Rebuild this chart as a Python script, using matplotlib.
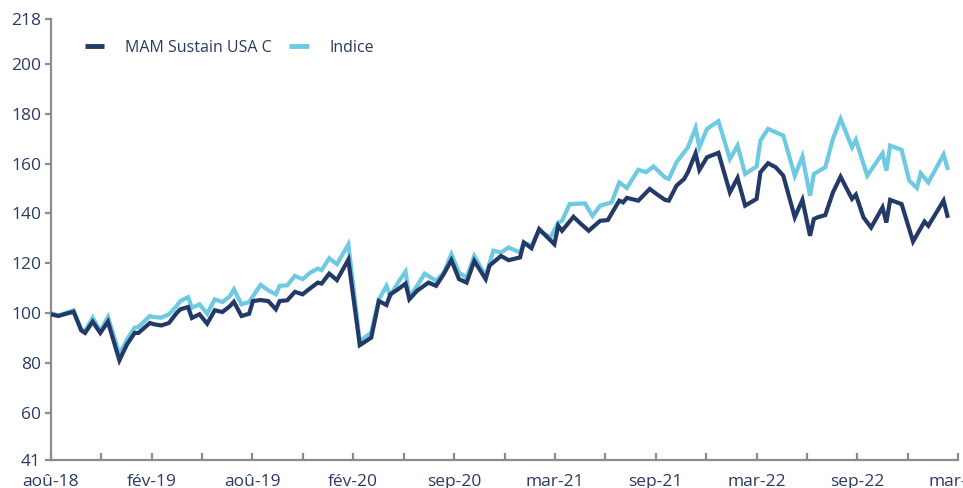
import matplotlib
matplotlib.use("Agg")
import matplotlib.pyplot as plt
import numpy as np

fund_weeks = [0, 2, 4, 6, 8, 9, 11, 13, 15, 18, 20, 22, 23, 26, 27, 29, 31, 33, 34, 36,
              37, 39, 41, 43, 45, 47, 48, 50, 52, 53, 55, 57, 59, 60, 62, 64, 66, 68, 70, 71,
              73, 75, 78, 81, 84, 86, 88, 89, 91, 93, 94, 96, 99, 101, 103, 105, 107, 109, 111, 114,
              115, 118, 120, 123, 124, 126, 128, 132, 133, 134, 137, 139, 141, 144, 146, 149, 150, 151, 154, 157,
              159, 161, 162, 164, 166, 167, 169, 170, 172, 175, 178, 180, 182, 185, 186, 188, 190, 192, 195, 197,
              199, 200, 201, 203, 205, 207, 210, 211, 213, 215, 218, 219, 220, 223, 225, 226, 229, 230, 234, 235]
fund_values = [99.5, 98.8, 99.7, 100.5, 93.0, 92.0, 96.5, 92.0, 96.5, 81.0, 87.4, 92.0, 92.0, 96.0, 95.5, 95.0, 96.0, 100.0, 101.5, 102.4,
               98.0, 99.5, 95.7, 101.1, 100.4, 102.8, 104.5, 98.8, 99.7, 104.8, 105.2, 104.8, 101.5, 104.8, 105.1, 108.5, 107.5, 109.9, 112.2, 111.8,
               115.8, 113.2, 121.4, 87.1, 90.1, 104.8, 103.2, 107.5, 109.5, 111.8, 105.5, 108.9, 112.2, 110.9, 115.6, 121.2, 113.6, 112.2, 120.9, 113.6,
               119.0, 122.9, 121.2, 122.3, 128.3, 126.0, 133.7, 127.6, 135.0, 133.0, 138.6, 135.7, 133.0, 137.0, 137.3, 145.1, 144.4, 146.2, 145.1, 149.8,
               147.5, 145.4, 145.1, 151.1, 153.8, 156.5, 164.1, 157.4, 162.5, 164.3, 148.4, 154.2, 143.1, 145.8, 156.5, 160.1, 158.5, 155.1, 138.4, 145.4,
               131.0, 137.7, 138.4, 139.3, 148.4, 154.7, 145.8, 147.5, 138.4, 134.3, 142.4, 136.3, 145.4, 143.7, 133.7, 128.7, 136.7, 135.0, 145.1, 139.0]

index_weeks = [0, 2, 4, 6, 8, 9, 11, 13, 15, 18, 20, 22, 23, 26, 27, 29, 31, 33, 34, 36,
               37, 39, 41, 43, 45, 47, 48, 50, 52, 55, 57, 59, 60, 62, 64, 66, 68, 70, 71, 73,
               75, 78, 81, 84, 86, 88, 89, 91, 93, 94, 96, 98, 101, 103, 105, 107, 109, 111, 114, 116,
               118, 120, 123, 124, 126, 128, 131, 133, 134, 136, 140, 142, 144, 147, 149, 151, 154, 156, 158, 161,
               162, 164, 167, 169, 170, 172, 175, 178, 180, 182, 185, 186, 188, 192, 195, 197, 199, 200, 203, 205,
               207, 210, 211, 214, 218, 219, 220, 223, 225, 227, 228, 230, 234, 235]
index_values = [100.0, 99.0, 100.0, 101.1, 93.4, 92.8, 98.1, 92.8, 98.4, 83.5, 89.4, 94.1, 94.4, 98.8, 98.4, 98.1, 99.5, 102.8, 104.8, 106.4,
                102.1, 103.5, 99.7, 105.5, 104.4, 106.8, 109.5, 103.5, 104.4, 111.3, 109.1, 107.5, 110.9, 111.1, 114.9, 113.6, 116.2, 117.8, 117.2, 122.0,
                119.6, 127.5, 88.7, 92.1, 105.5, 110.9, 106.8, 112.2, 116.6, 106.2, 110.9, 115.8, 112.9, 116.2, 123.6, 116.2, 114.2, 122.9, 114.9, 125.0,
                124.3, 126.3, 124.3, 128.3, 127.0, 133.0, 130.3, 136.3, 137.0, 143.7, 144.0, 139.0, 143.1, 144.4, 152.4, 150.2, 157.5, 156.5, 158.8, 154.4,
                153.8, 160.5, 166.5, 174.3, 166.5, 173.9, 177.0, 161.8, 167.2, 155.8, 158.8, 169.2, 173.9, 171.2, 155.1, 162.8, 147.1, 155.8, 158.5, 169.9,
                177.9, 166.5, 169.5, 155.1, 164.1, 157.1, 167.2, 165.5, 153.1, 150.2, 156.1, 152.4, 163.6, 158.2]

series_names = ["MAM Sustain USA C", "Indice"]
x_tick_labels = ["aoû-18", "fév-19", "aoû-19", "fév-20", "sep-20", "mar-21",
                 "sep-21", "mar-22", "sep-22", "mar-23"]
y_ticks = [41, 60, 80, 100, 120, 140, 160, 180, 200, 218]

dark = "#233a69"
light = "#6ec9e2"
text_col = "#2a3a63"
axis_col = "#8c8c8c"

plt.rcParams['font.family'] = ['Open Sans', 'DejaVu Sans']

fig = plt.figure(figsize=(9.63, 4.88), dpi=100)
ax = fig.add_axes([50.7 / 963, 1 - 460 / 488, (958.3 - 50.7) / 963, (460 - 19) / 488])

tick_step = 92.5 / 7.0  # weeks between minor ticks
ax.plot(fund_weeks, fund_values, color=dark, lw=3.0, solid_joinstyle='miter', label=series_names[0], zorder=3)
ax.plot(index_weeks, index_values, color=light, lw=3.0, solid_joinstyle='miter', label=series_names[1], zorder=2)

ax.set_xlim(0, 18 * tick_step)
ax.set_ylim(41, 218)

ticks = [k * tick_step for k in range(19)]
ax.set_xticks(ticks)
ax.set_xticklabels([x_tick_labels[k // 2] if k % 2 == 0 else "" for k in range(19)])
ax.set_yticks(y_ticks)
ax.set_yticklabels([str(v) for v in y_ticks])

for s in ["top", "right"]:
    ax.spines[s].set_visible(False)
for s in ["left", "bottom"]:
    ax.spines[s].set_color(axis_col)
    ax.spines[s].set_linewidth(1.6)

ax.tick_params(axis='x', direction='in', length=5, width=1.6, color=axis_col,
               labelsize=12.5, labelcolor=text_col, pad=10)
ax.tick_params(axis='y', direction='out', length=4, width=1.6, color=axis_col,
               labelsize=12.5, labelcolor=text_col, pad=3)

leg = ax.legend(loc='upper left', bbox_to_anchor=(0.038, 0.953), ncol=2, frameon=False,
                fontsize=11.5, handlelength=1.2, handletextpad=1.3, columnspacing=1.1,
                borderpad=0, borderaxespad=0)
for t in leg.get_texts():
    t.set_color(text_col)
for h in leg.get_lines():
    h.set_linewidth(3.5)
    h.set_solid_capstyle('butt')

fig.savefig("out.png", dpi=100)
